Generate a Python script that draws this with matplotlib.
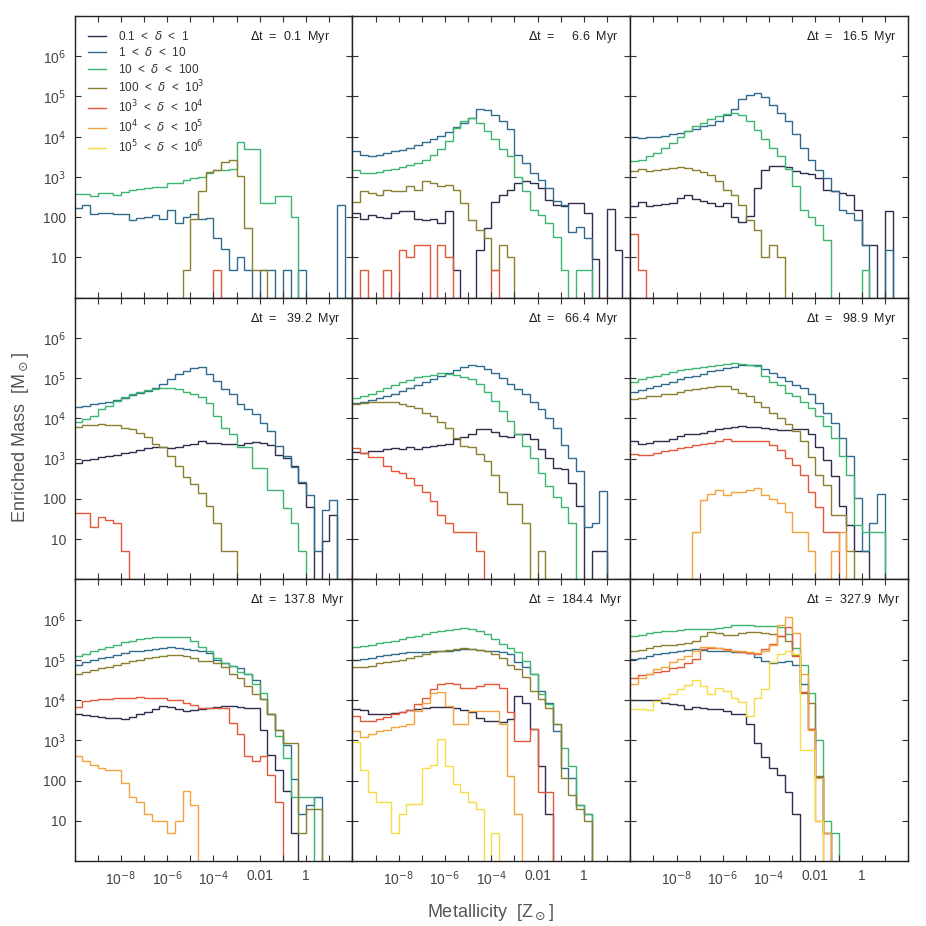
import numpy as np
import matplotlib.pyplot as plt
from matplotlib.lines import Line2D
from matplotlib.ticker import NullLocator

plt.rcParams['font.family'] = ['Liberation Sans', 'DejaVu Sans']
plt.rcParams['mathtext.fontset'] = 'dejavusans'

# metallicity bins: 1/3 dex from 1e-10 to 1e2 Z_sun
edges = 10.0 ** np.linspace(-10, 2, 37)

labels = ['0.1  <  $\\delta$  <  1', '1  <  $\\delta$  <  10', '10  <  $\\delta$  <  100',
          '100  <  $\\delta$  <  10$^3$', '10$^3$  <  $\\delta$  <  10$^4$',
          '10$^4$  <  $\\delta$  <  10$^5$', '10$^5$  <  $\\delta$  <  10$^6$']
colors = ['#2e2d4d', '#2f6b8c', '#3cb56f', '#8a7f2f', '#e5573a', '#f3a33c', '#f7dd45']
times = ['0.1', '   6.6', ' 16.5', ' 39.2', ' 66.4', ' 98.9', '137.8', '184.4', '327.9']

# enriched mass per bin [M_sun], 0 = empty bin
# dt = 0.1 Myr
p1_d0 = []
p1_d1 = [170, 200, 120, 130, 125, 120, 120, 83, 95, 100, 115, 90, 150, 70, 100, 120, 90, 95, 30, 16,
         5, 10, 5, 0, 5, 5, 0, 5, 0, 5, 0, 0, 0, 0, 200]
p1_d2 = [383, 383, 329, 406, 390, 362, 430, 483, 511, 541, 562, 570, 708, 708, 858, 944, 1000, 1260,
         1470, 1525, 1615, 7400, 5000, 5000, 224, 224, 329, 329, 100]
p1_d3 = [0, 0, 0, 0, 0, 0, 0, 0, 0, 0, 0, 0, 0, 0, 5, 90, 450, 1300, 1500, 2300, 2600, 1050, 55, 5, 5]
p1_d4 = [0, 0, 0, 0, 0, 0, 0, 0, 0, 0, 0, 0, 0, 0, 0, 0, 0, 0, 5]

# dt = 6.6 Myr
p2_d0 = [130, 90, 115, 100, 95, 125, 145, 140, 90, 85, 90, 70, 140, 5, 0, 0, 15, 53, 245, 360, 480,
         710, 780, 710, 530, 270, 200, 185, 224, 224, 125, 9, 0, 160, 15]
p2_d1 = [4400, 3500, 3300, 3550, 4000, 4400, 4800, 5300, 6400, 7300, 8900, 10700, 13000, 17000, 22000,
         30000, 50000, 46000, 34000, 25000, 15300, 3600, 2200, 1260, 860, 530, 260, 200, 44, 58, 30]
p2_d2 = [1480, 1260, 1260, 1300, 1480, 1600, 1780, 2000, 2200, 2700, 3600, 5000, 7800, 16800, 24600,
         30000, 22000, 13800, 8600, 5000, 3300, 1000, 440, 150, 115, 70, 33, 5, 0, 5, 5]
p2_d3 = [245, 440, 400, 360, 480, 440, 440, 590, 480, 780, 710, 600, 640, 480, 224, 83, 48, 30, 5, 20, 10]
p2_d4 = [0, 5, 0, 0, 5, 0, 15, 10, 20, 20, 0, 20, 10, 0, 0, 0, 0, 0, 5]

# dt = 16.5 Myr
p3_d0 = [192, 245, 192, 200, 215, 230, 300, 360, 280, 260, 230, 192, 230, 100, 78, 108, 530, 1520, 1850,
         1900, 1780, 1380, 1260, 1200, 950, 480, 440, 400, 360, 150, 20, 20, 0, 140]
p3_d1 = [9800, 9500, 9800, 10000, 10400, 11400, 12600, 13800, 15900, 18500, 20000, 24600, 34000, 50000,
         85000, 107000, 120000, 95000, 60000, 40000, 24600, 11400, 5300, 2700, 1520, 950, 440, 150, 125,
         86, 20, 0, 0, 15]
p3_d2 = [2450, 2700, 3300, 4000, 5300, 7000, 10000, 13800, 18500, 22000, 27000, 33000, 36000, 38000,
         34000, 24600, 14700, 8600, 5300, 3300, 1600, 590, 150, 100, 64, 27, 0, 0, 0, 0, 5]
p3_d3 = [1380, 1580, 1380, 1520, 1580, 1660, 1780, 1660, 1520, 1300, 1140, 780, 480, 360, 200, 83, 48,
         10, 20, 10]
p3_d4 = [38, 5]

# dt = 39.2 Myr
p4_d0 = [780, 950, 1000, 1070, 1150, 1250, 1350, 1450, 1600, 1800, 2000, 1900, 1850, 1900, 2150, 2300,
         2700, 2500, 2500, 2300, 2300, 2200, 2500, 2600, 2500, 2150, 1250, 1050, 640, 250, 64, 0, 9, 40]
p4_d1 = [19200, 20300, 22400, 24200, 26100, 29300, 31600, 37600, 43000, 48200, 56200, 73600, 94400,
         126000, 152000, 178000, 185000, 126000, 82600, 53100, 39800, 22400, 16800, 12600, 7800, 5000,
         2040, 1140, 610, 270, 126, 5, 53, 94]
p4_d2 = [8250, 9440, 11400, 16800, 20300, 27100, 34100, 41400, 46400, 50100, 53100, 58400, 58400, 55200,
         46400, 41400, 34100, 24600, 11400, 5850, 3980, 1920, 1920, 585, 585, 168, 168, 58, 25, 5]
p4_d3 = [6100, 6800, 6800, 7300, 7000, 6800, 5900, 5300, 4400, 3400, 2300, 1900, 1150, 640, 340, 230,
         140, 68, 25, 5, 5]
p4_d4 = [44, 44, 20, 36, 30, 25, 5]

# dt = 66.4 Myr
p5_d0 = [1470, 1390, 1520, 1580, 1780, 1850, 1780, 1920, 1780, 1920, 2030, 2150, 2330, 3160, 3410, 4140,
         5310, 5310, 4640, 3610, 3410, 3980, 3980, 3160, 1780, 1040, 585, 562, 246, 68, 0, 5, 5]
p5_d1 = [24600, 26100, 28200, 31600, 36100, 41400, 48200, 56200, 68100, 82500, 94400, 114000, 131000,
         158000, 192000, 215000, 203000, 168000, 131000, 100000, 73600, 53100, 39800, 26100, 16800,
         10400, 5840, 2240, 1040, 482, 20, 25, 158]
p5_d2 = [31600, 36100, 41400, 48200, 56200, 68100, 78000, 89100, 104000, 114000, 121000, 131000, 126000,
         117000, 108000, 94400, 73600, 46400, 27100, 15200, 8580, 4140, 2030, 1040, 438, 203, 114, 64, 25]
p5_d3 = [22400, 24600, 26100, 26100, 26100, 26100, 23300, 20300, 18500, 13900, 11400, 8250, 5840, 3290,
         2030, 1940, 1310, 858, 398, 152, 74, 74, 25, 0, 5]
p5_d4 = [1850, 1390, 1080, 1080, 643, 482, 438, 329, 224, 152, 86, 40, 25, 15, 15, 15, 5]

# dt = 98.9 Myr
p6_d0 = [2710, 2330, 2470, 2710, 2820, 3160, 3610, 3980, 4140, 4380, 4820, 5310, 5840, 6070, 6430, 6070,
         6070, 5840, 5310, 5010, 5010, 5310, 5310, 3980, 1920, 944, 361, 68, 22, 5, 5]
p6_d1 = [46400, 50100, 58400, 64300, 73600, 82500, 94400, 104000, 114000, 126000, 147000, 158000, 178000,
         192000, 215000, 215000, 215000, 168000, 131000, 108000, 85800, 68100, 56200, 39800, 24600,
         13900, 7790, 3290, 1140, 104, 5, 25, 131]
p6_d2 = [82500, 94400, 104000, 114000, 126000, 139000, 158000, 168000, 178000, 192000, 203000, 215000,
         224000, 233000, 224000, 215000, 203000, 114000, 78000, 68100, 43800, 36100, 26100, 18500, 11400,
         6430, 3290, 1140, 398, 22, 15, 15, 15]
p6_d3 = [29900, 32900, 36100, 36100, 39800, 41400, 46400, 50100, 53100, 56200, 60700, 64300, 64300,
         53100, 43800, 36100, 26100, 19200, 13900, 10000, 7360, 4820, 2710, 1080, 398, 224, 40, 40, 5]
p6_d4 = [1310, 1210, 1260, 1390, 1520, 1680, 1850, 2000, 2150, 2330, 2470, 2710, 2990, 2710, 2710, 2820,
         2820, 2710, 2150, 1680, 1040, 708, 398, 152, 64, 15, 15]
p6_d5 = [0, 0, 0, 0, 0, 0, 0, 0, 15, 94, 130, 168, 126, 146, 152, 168, 185, 126, 100, 78, 48, 15, 15, 5,
         0, 0, 5, 15]

# dt = 137.8 Myr
p7_d0 = [4380, 4220, 3980, 3760, 3610, 3480, 3290, 3760, 4380, 5110, 5840, 7080, 6680, 5840, 5310, 5520,
         5840, 6190, 6680, 7080, 7080, 6680, 6190, 6190, 1850, 438, 185, 55, 5]
p7_d1 = [75000, 85800, 98100, 110000, 119000, 133000, 144000, 161000, 168000, 175000, 185000, 196000,
         203000, 196000, 185000, 175000, 161000, 144000, 98100, 81000, 70800, 61900, 43800, 31000, 10400,
         4380, 1850, 779, 110, 15, 25, 40]
p7_d2 = [126000, 139000, 161000, 185000, 211000, 237000, 271000, 299000, 322000, 348000, 361000, 361000,
         376000, 376000, 361000, 287000, 203000, 161000, 114000, 81000, 70800, 51100, 43800, 24600, 15200,
         4550, 1260, 361, 40, 40, 40]
p7_d3 = [45500, 51100, 55200, 61900, 66800, 75000, 81000, 90900, 98100, 110000, 119000, 126000, 133000,
         133000, 126000, 114000, 90900, 90900, 81000, 65600, 43800, 36100, 22400, 13900, 10400, 4380,
         1850, 858, 858, 5, 20, 20]
p7_d4 = [6680, 9440, 9810, 10400, 10400, 11000, 11000, 11400, 11900, 11400, 11000, 11400, 9810, 9810,
         8580, 7500, 6430, 6190, 6190, 6190, 2710, 1440, 398, 299, 398, 139, 30]
p7_d5 = [400, 300, 250, 210, 185, 185, 85, 40, 30, 15, 10, 10, 5, 10, 55, 25]

# dt = 184.4 Myr
p8_d0 = [5840, 5520, 4550, 4380, 4550, 4820, 5110, 5520, 5840, 6430, 6680, 6680, 6680, 6430, 5520, 5110,
         3480, 3100, 2990, 2870, 3290, 12600, 8580, 1960, 224, 15]
p8_d1 = [98100, 104000, 114000, 126000, 133000, 139000, 144000, 152000, 152000, 152000, 161000, 161000,
         168000, 175000, 185000, 185000, 175000, 168000, 161000, 152000, 139000, 85800, 65600, 45500,
         16800, 8580, 1680, 203, 114, 25, 15]
p8_d2 = [203000, 224000, 237000, 256000, 271000, 299000, 329000, 361000, 398000, 438000, 482000, 511000,
         552000, 584000, 619000, 584000, 511000, 438000, 329000, 246000, 196000, 152000, 90900, 43800,
         13900, 7790, 2470, 643, 224, 25, 15]
p8_d3 = [65600, 66800, 70800, 81000, 85800, 90900, 98100, 110000, 126000, 139000, 152000, 161000, 175000,
         185000, 196000, 185000, 175000, 161000, 139000, 114000, 75000, 58400, 37600, 16800, 10400, 6430,
         2470, 114, 44, 20, 10]
p8_d4 = [3980, 3100, 2990, 3290, 3760, 4380, 5110, 5520, 7790, 11400, 18500, 24600, 27100, 24600, 19600,
         19600, 22400, 24600, 24600, 20300, 5110, 944, 944, 1960, 51, 51]
p8_d5 = [1680, 1190, 1440, 1680, 1850, 2110, 2240, 2470, 5310, 8580, 15200, 16100, 7080, 2560, 2560,
         5310, 5310, 5310, 5310, 2560, 126, 15]
p8_d6 = [900, 185, 51, 30, 30, 5, 15, 26, 26, 210, 245, 1100, 235, 81, 51, 30, 20, 0, 5]

# dt = 327.9 Myr
p9_d0 = [9810, 9810, 9810, 9810, 8580, 8100, 7500, 5840, 6680, 6190, 5840, 5840, 5310, 4550, 4550, 2470,
         858, 376, 203, 139, 53, 15]
p9_d1 = [104000, 114000, 126000, 139000, 144000, 152000, 168000, 175000, 185000, 175000, 168000, 161000,
         161000, 152000, 152000, 144000, 119000, 90900, 81000, 85800, 90900, 75000, 24600, 1960, 119, 5]
p9_d2 = [398000, 422000, 455000, 482000, 511000, 531000, 552000, 584000, 584000, 584000, 584000, 619000,
         668000, 750000, 750000, 736000, 708000, 708000, 708000, 668000, 438000, 196000, 75000, 15200,
         1040, 10, 5]
p9_d3 = [161000, 175000, 196000, 224000, 237000, 237000, 246000, 256000, 299000, 398000, 482000, 455000,
         422000, 422000, 455000, 482000, 482000, 455000, 438000, 398000, 287000, 133000, 15200, 8580, 126, 5]
p9_d4 = [34800, 42200, 45500, 51100, 53100, 61900, 66800, 81000, 104000, 185000, 196000, 196000, 185000,
         161000, 152000, 144000, 139000, 185000, 246000, 398000, 643000, 126000, 16100, 1960, 10]
p9_d5 = [24600, 36100, 43800, 58400, 66800, 85800, 104000, 126000, 161000, 211000, 211000, 196000,
         175000, 168000, 161000, 152000, 144000, 168000, 237000, 750000, 1140000, 455000, 43800, 1850,
         114, 5]
p9_d6 = [5840, 5840, 5520, 9440, 11000, 13900, 18500, 23700, 31000, 22400, 13900, 20300, 16800, 11000,
         9080, 3980, 11400, 18500, 85800, 139000, 161000, 139000, 585, 585, 10]

panels = [
    [p1_d0, p1_d1, p1_d2, p1_d3, p1_d4, [], []],
    [p2_d0, p2_d1, p2_d2, p2_d3, p2_d4, [], []],
    [p3_d0, p3_d1, p3_d2, p3_d3, p3_d4, [], []],
    [p4_d0, p4_d1, p4_d2, p4_d3, p4_d4, [], []],
    [p5_d0, p5_d1, p5_d2, p5_d3, p5_d4, [], []],
    [p6_d0, p6_d1, p6_d2, p6_d3, p6_d4, p6_d5, []],
    [p7_d0, p7_d1, p7_d2, p7_d3, p7_d4, p7_d5, []],
    [p8_d0, p8_d1, p8_d2, p8_d3, p8_d4, p8_d5, p8_d6],
    [p9_d0, p9_d1, p9_d2, p9_d3, p9_d4, p9_d5, p9_d6],
]

xtick_labels = ['', '', '10$^{-8}$', '', '10$^{-6}$', '', '10$^{-4}$', '', '0.01', '', '1', '', '']
ytick_labels = ['', '10', '100', '10$^3$', '10$^4$', '10$^5$', '10$^6$', '']

fig, axes = plt.subplots(3, 3, figsize=(9.26, 9.26), dpi=100)
fig.subplots_adjust(left=0.0805, right=0.9806, bottom=0.0702, top=0.9827, wspace=0, hspace=0)

nbins = len(edges) - 1
for i, ax in enumerate(axes.flat):
    ax.set_xscale('log')
    ax.set_yscale('log')
    for j, vals in enumerate(panels[i]):
        if not any(v > 0 for v in vals):
            continue
        v = np.zeros(nbins)
        v[:len(vals)] = vals
        v = np.where(v > 0, v, 1e-2)
        ax.stairs(v, edges, baseline=None, color=colors[j], lw=1.0)

    ax.set_xlim(1e-10, 1e2)
    ax.set_ylim(1, 1e7)
    ax.set_xticks(10.0 ** np.arange(-10, 3))
    ax.set_yticks(10.0 ** np.arange(0, 8))
    ax.xaxis.set_minor_locator(NullLocator())
    ax.yaxis.set_minor_locator(NullLocator())
    row, col = divmod(i, 3)
    ax.set_xticklabels(xtick_labels if row == 2 else [''] * 13)
    ax.set_yticklabels(ytick_labels if col == 0 else [''] * 8)
    ax.tick_params(direction='in', top=True, right=True, length=4, width=0.8,
                   color='#333333', labelcolor='#444444', labelsize=10, pad=6)
    for sp in ax.spines.values():
        sp.set_linewidth(1.0)
        sp.set_color('#222222')

    ax.text(0.633, 0.925, '$\\Delta$t  =  %s  Myr' % times[i], transform=ax.transAxes,
            fontsize=9, ha='left', va='center', color='#222222')

handles = [Line2D([], [], color=c, lw=1.0) for c in colors]
axes[0, 0].legend(handles, labels, loc='upper left', bbox_to_anchor=(0.05, 0.95), frameon=False,
                  fontsize=8.5, handlelength=1.5, handletextpad=1.0, labelspacing=0.28,
                  borderpad=0, borderaxespad=0, labelcolor='#333333')

fig.text(0.022, 0.527, 'Enriched Mass  [M$_\\odot$]', rotation=90, ha='center', va='center',
         fontsize=13, color='#555555')
fig.text(0.530, 0.015, 'Metallicity  [Z$_\\odot$]', ha='center', va='center',
         fontsize=13, color='#555555')

fig.savefig('out.png', dpi=100)
